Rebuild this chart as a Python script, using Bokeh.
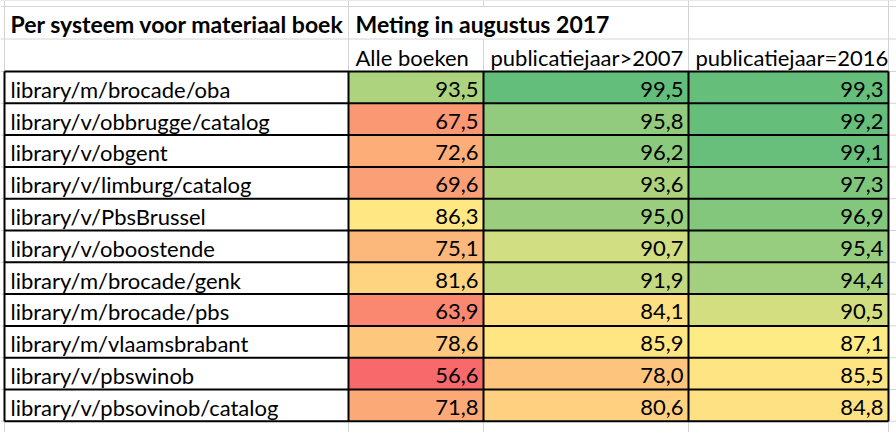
from bokeh.plotting import figure
from bokeh.models import Range1d, ColumnDataSource, LinearColorMapper
from bokeh.core.properties import value
from bokeh.embed import file_html
from bokeh.resources import INLINE
import numpy as np

# ---- data ----
systems = [
    "library/m/brocade/oba", "library/v/obbrugge/catalog", "library/v/obgent",
    "library/v/limburg/catalog", "library/v/PbsBrussel", "library/v/oboostende",
    "library/m/brocade/genk", "library/m/brocade/pbs", "library/m/vlaamsbrabant",
    "library/v/pbswinob", "library/v/pbsovinob/catalog",
]
alle_boeken = [93.5, 67.5, 72.6, 69.6, 86.3, 75.1, 81.6, 63.9, 78.6, 56.6, 71.8]
pub_gt_2007 = [99.5, 95.8, 96.2, 93.6, 95.0, 90.7, 91.9, 84.1, 85.9, 78.0, 80.6]
pub_eq_2016 = [99.3, 99.2, 99.1, 97.3, 96.9, 95.4, 94.4, 90.5, 87.1, 85.5, 84.8]
series = [alle_boeken, pub_gt_2007, pub_eq_2016]
col_headers = ["Alle boeken", "publicatiejaar>2007", "publicatiejaar=2016"]
title_a = "Per systeem voor materiaal boek"
title_b = "Meting in augustus 2017"

# ---- layout (pixels) ----
W, H = 896, 432
col_edges = [4, 348, 483, 688, 888]
hdr_edges = [6, 38.5, 71]
row_h = 31.8
n = len(systems)
row_edges = [71 + row_h * k for k in range(n + 1)]
FONT = "Lato"
FS = "22px"
FSB = "23px"
BASE = 14  # baseline distance above the cell's bottom edge

# ---- colour scale (Excel 3-colour: min red, median yellow, max green) ----
allv = np.array(series).ravel()
lo, mid, hi = allv.min(), np.median(allv), allv.max()
c_lo, c_mid, c_hi = (0xF8, 0x69, 0x6B), (0xFF, 0xEB, 0x84), (0x63, 0xBE, 0x7B)
palette = []
for i in range(256):
    v = lo + (hi - lo) * i / 255
    if v <= mid:
        t = (v - lo) / (mid - lo); a, b = c_lo, c_mid
    else:
        t = (v - mid) / (hi - mid); a, b = c_mid, c_hi
    c = tuple(int(round(a[j] + (b[j] - a[j]) * t)) for j in range(3))
    palette.append("#%02x%02x%02x" % c)
mapper = LinearColorMapper(palette=palette, low=lo, high=hi)

p = figure(width=W, height=H, x_range=Range1d(0, W), y_range=Range1d(H, 0),
           output_backend="svg", toolbar_location=None, min_border=0,
           background_fill_color="white", border_fill_color="white")
p.axis.visible = False
p.grid.visible = False
p.outline_line_color = None
p.styles = {"position": "absolute", "left": "0px", "top": "0px"}

# cells
cells = dict(left=[], right=[], top=[], bottom=[], val=[], label=[], xr=[], yb=[])
for j, s in enumerate(series):
    for i, v in enumerate(s):
        cells["left"].append(col_edges[j + 1]); cells["right"].append(col_edges[j + 2])
        cells["top"].append(row_edges[i]); cells["bottom"].append(row_edges[i + 1])
        cells["val"].append(v); cells["label"].append(f"{v:.1f}".replace(".", ","))
        cells["xr"].append(col_edges[j + 2] - 5); cells["yb"].append(row_edges[i + 1] - BASE)
src = ColumnDataSource(cells)
p.quad(left="left", right="right", top="top", bottom="bottom", source=src,
       fill_color={"field": "val", "transform": mapper}, line_color=None)

# light gridlines (sheet)
gray = "#d4d4d4"
all_h = [0.0] + hdr_edges + row_edges[1:]
for y in all_h:
    p.segment(x0=0, y0=y, x1=W, y1=y, line_color=gray, line_width=1)
for x in col_edges:
    if x == col_edges[2]:
        # hidden in title row (text overflow)
        p.segment(x0=x, y0=0, x1=x, y1=hdr_edges[0], line_color=gray, line_width=1)
        p.segment(x0=x, y0=hdr_edges[1], x1=x, y1=H, line_color=gray, line_width=1)
    else:
        p.segment(x0=x, y0=0, x1=x, y1=H, line_color=gray, line_width=1)
# black borders of the table
for y in row_edges:
    p.segment(x0=col_edges[0], y0=y, x1=col_edges[-1], y1=y, line_color="black", line_width=2)
for x in col_edges:
    p.segment(x0=x, y0=row_edges[0], x1=x, y1=row_edges[-1], line_color="black", line_width=2)

# texts
p.text(x=[col_edges[0] + 6] * n, y=[row_edges[i + 1] - BASE for i in range(n)], text=systems,
       text_font=value(FONT), text_font_size=FS, text_color="black",
       text_align="left", text_baseline="alphabetic")
p.text(x="xr", y="yb", text="label", source=src, text_font=value(FONT), text_font_size=FS,
       text_color="black", text_align="right", text_baseline="alphabetic")
p.text(x=[col_edges[0] + 6, col_edges[1] + 7], y=[hdr_edges[1] - BASE - 1] * 2, text=[title_a, title_b],
       text_font=value(FONT), text_font_size=FSB, text_font_style="bold", text_color="black",
       text_align="left", text_baseline="alphabetic")
p.text(x=[col_edges[j + 1] + 7 for j in range(3)], y=[hdr_edges[2] - BASE] * 3, text=col_headers,
       text_font=value(FONT), text_font_size=FS, text_color="black",
       text_align="left", text_baseline="alphabetic")

open("out.html", "w").write(file_html(p, INLINE))
